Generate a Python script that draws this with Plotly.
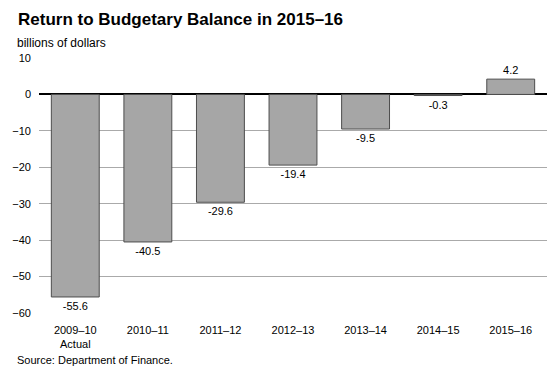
import plotly.graph_objects as go

categories = ["2009–10<br>Actual", "2010–11", "2011–12", "2012–13", "2013–14", "2014–15", "2015–16"]
values = [-55.6, -40.5, -29.6, -19.4, -9.5, -0.3, 4.2]
labels = ["-55.6", "-40.5", "-29.6", "-19.4", "-9.5", "-0.3", "4.2"]
tick_vals = [10, 0, -10, -20, -30, -40, -50, -60]

font = "Liberation Sans, Arial, sans-serif"

fig = go.Figure(go.Bar(
    x=categories, y=values, text=labels, textposition="outside",
    textfont=dict(family=font, size=11, color="black"),
    marker=dict(color="#a6a6a6", line=dict(color="#4d4d4d", width=1)),
    cliponaxis=False,
))

fig.update_layout(
    width=560, height=369,
    margin=dict(l=37, r=13, t=58, b=56),
    paper_bgcolor="white", plot_bgcolor="white",
    bargap=0.34,
    showlegend=False,
    font=dict(family=font, size=11, color="black"),
    xaxis=dict(showgrid=False, showline=False, ticks="", tickfont=dict(size=11), ticklabelstandoff=9),
    yaxis=dict(range=[-60, 10], tickvals=tick_vals, showgrid=True, gridcolor="#aaaaaa", gridwidth=1,
               zeroline=True, zerolinecolor="black", zerolinewidth=2, ticks="",
               tickfont=dict(size=11), ticklabelstandoff=7, showline=False),
    annotations=[
        dict(text="<b>Return to Budgetary Balance in 2015–16</b>", x=0, y=1, xref="paper", yref="paper",
             xanchor="left", yanchor="top", xshift=-23, yshift=50, showarrow=False,
             font=dict(family=font, size=17, color="black")),
        dict(text="billions of dollars", x=0, y=1, xref="paper", yref="paper",
             xanchor="left", yanchor="top", xshift=-24, yshift=24, showarrow=False,
             font=dict(family=font, size=12, color="black")),
        dict(text="Source: Department of Finance.", x=0, y=0, xref="paper", yref="paper",
             xanchor="left", yanchor="top", xshift=-24, yshift=-39, showarrow=False,
             font=dict(family=font, size=11, color="black")),
    ],
)

fig.write_html("out.html", config={"displayModeBar": False},
               post_script="document.body.style.margin='0';")
